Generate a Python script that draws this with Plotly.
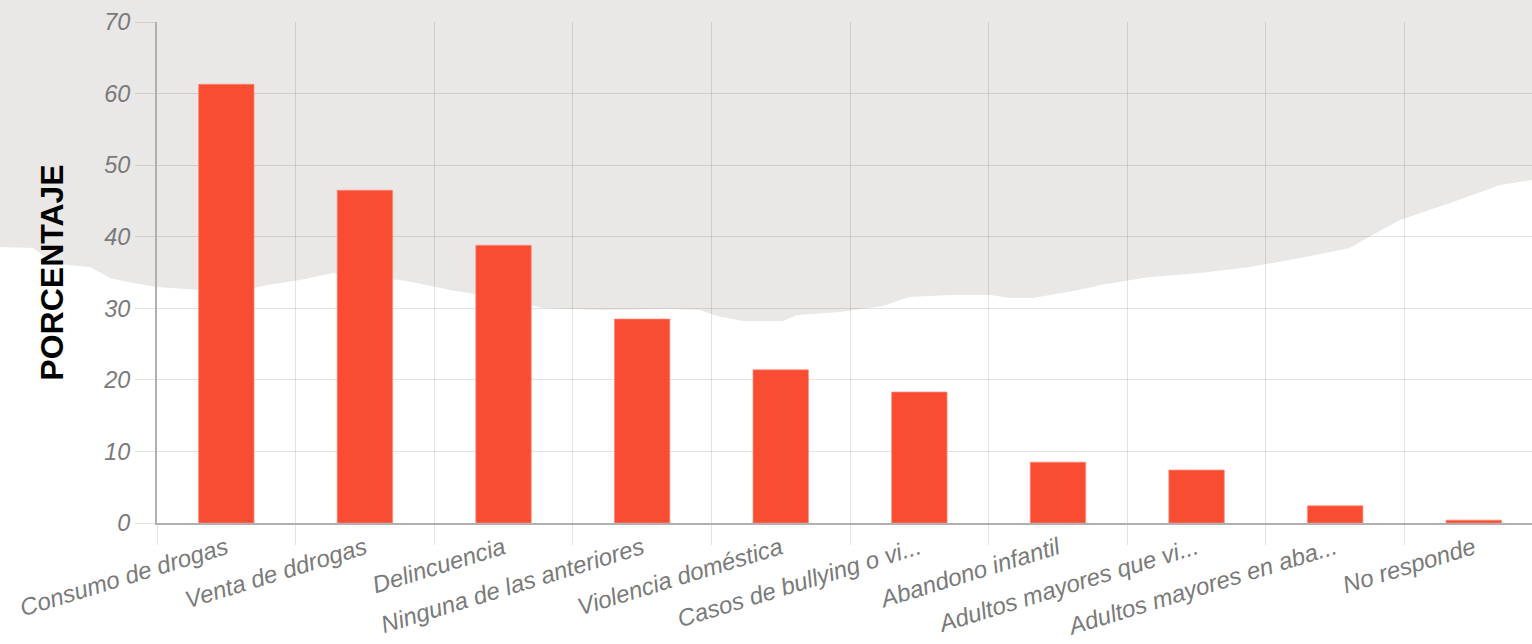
import plotly.graph_objects as go

# ---- data ----
categories = [
    "Consumo de drogas",
    "Venta de ddrogas",
    "Delincuencia",
    "Ninguna de las anteriores",
    "Violencia doméstica",
    "Casos de bullying o vi...",
    "Abandono infantil",
    "Adultos mayores que vi...",
    "Adultos mayores en aba...",
    "No responde",
]
porcentaje = [61.3, 46.5, 38.8, 28.5, 21.4, 18.3, 8.5, 7.4, 2.4, 0.4]
y_ticks = [0, 10, 20, 30, 40, 50, 60, 70]

# ---- decorative background silhouette (pixel outline of the grey backdrop) ----
W, H = 1532, 644
L, T, B = 157, 22, 523
silhouette_px = [
    (0, 247), (33, 248), (50, 260), (67, 265), (90, 267), (110, 278), (133, 283),
    (157, 287), (200, 290), (240, 291), (267, 285), (300, 280), (333, 273),
    (350, 277), (400, 280), (417, 283), (450, 290), (500, 298), (543, 308),
    (600, 310), (667, 309), (700, 310), (717, 316), (743, 321), (783, 321),
    (797, 315), (840, 312), (883, 306), (900, 300), (910, 297), (950, 295),
    (990, 295), (1010, 298), (1033, 298), (1067, 292), (1093, 287), (1100, 285),
    (1150, 277), (1200, 273), (1250, 267), (1300, 258), (1350, 248), (1367, 238),
    (1400, 220), (1450, 203), (1500, 185), (1532, 180),
]


def to_paper(px, py):
    return (px - L) / (W - L), (B - py) / (B - T)


pts = [to_paper(0, 0)] + [to_paper(x, y) for x, y in silhouette_px] + [to_paper(W, 0)]
path = "M " + " L ".join(f"{x:.4f},{y:.4f}" for x, y in pts) + " Z"

fig = go.Figure()
fig.add_trace(
    go.Bar(
        x=categories,
        y=porcentaje,
        width=0.4,
        marker=dict(color="#F94D33", line=dict(color="rgba(255,140,120,0.7)", width=1)),
        hoverinfo="skip",
    )
)

fig.add_shape(
    type="path",
    path=path,
    xref="paper",
    yref="paper",
    fillcolor="#E9E8E6",
    line=dict(width=0),
    layer="below",
)

fig.update_layout(
    width=W,
    height=H,
    margin=dict(l=L, r=0, t=T, b=H - B),
    paper_bgcolor="white",
    plot_bgcolor="rgba(0,0,0,0)",
    showlegend=False,
    font=dict(family="Liberation Sans, Arial, sans-serif"),
)

grid_col = "rgba(0,0,0,0.11)"

fig.update_xaxes(
    range=[-0.5, 9.42],
    tickson="boundaries",
    showgrid=True,
    gridcolor=grid_col,
    gridwidth=1,
    ticks="outside",
    ticklen=20,
    tickcolor=grid_col,
    tickangle=-17,
    tickfont=dict(size=24, color="#7a7a7a", style="italic"),
    showline=True,
    linecolor="#b0b0b0",
    linewidth=2,
    automargin=False,
    fixedrange=True,
)

fig.update_yaxes(
    range=[0, 70],
    tickvals=y_ticks,
    showgrid=True,
    gridcolor=grid_col,
    gridwidth=1,
    ticks="outside",
    ticklen=20,
    tickcolor=grid_col,
    tickfont=dict(size=23.5, color="#7a7a7a", style="italic"),
    showline=True,
    linecolor="#b0b0b0",
    linewidth=2,
    zeroline=False,
    automargin=False,
    title=dict(
        text="PORCENTAJE",
        font=dict(size=32, color="black", family="Liberation Sans, Arial, sans-serif", weight="bold"),
        standoff=30,
    ),
    fixedrange=True,
)

fig.write_html(
    "out.html",
    config={"displayModeBar": False},
    post_script="document.body.style.margin='0';document.body.style.overflow='hidden';",
)
